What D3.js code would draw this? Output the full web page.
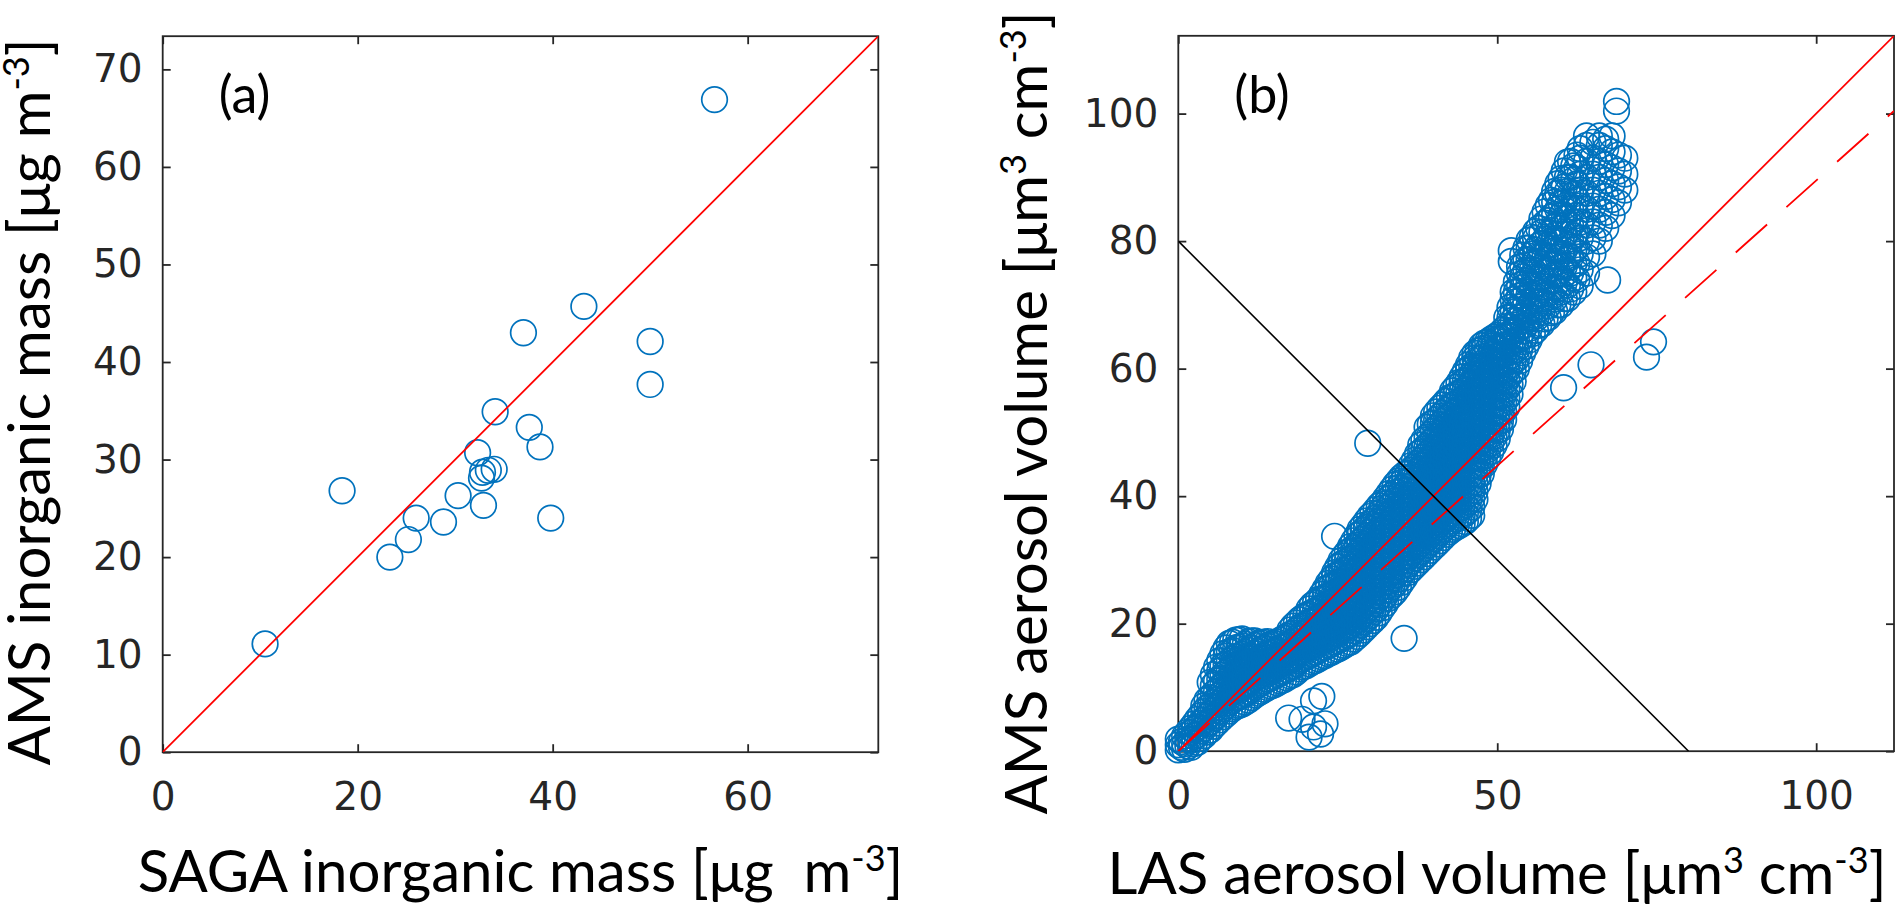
<!DOCTYPE html>
<html>
<head>
<meta charset="utf-8">
<script src="https://cdn.jsdelivr.net/npm/d3@7"></script>
<style>
  html, body { margin: 0; padding: 0; background: #fff; }
  svg { display: block; }
</style>
</head>
<body>
<div id="chart"></div>
<script>
// Panel (a): SAGA vs AMS inorganic mass
const sagaMass = [10.5, 18.4, 23.3, 25.2, 26.0, 28.8, 30.3, 32.3, 32.7, 32.8, 33.4, 34.0, 32.9, 34.1, 37.0, 37.6, 38.7, 39.8, 43.2, 50.0, 50.0, 56.6];
const amsMass  = [11.1, 26.8, 20.0, 21.8, 24.0, 23.6, 26.3, 30.7, 28.1, 28.7, 28.9, 29.0, 25.3, 34.9, 43.0, 33.3, 31.3, 24.0, 45.7, 42.1, 37.7, 66.9];

const massTicksX = [0, 20, 40, 60];
const massTicksY = [0, 10, 20, 30, 40, 50, 60, 70];
const massMax = 73.4;

// Panel (b): LAS vs AMS aerosol volume, rows of [LAS, [AMS values]]
const volumeRows = [
  [0, [0.2, 1.0, 1.9]],
  [0.5, [0.6, 1.5]],
  [1, [0.3, 1.2, 2.4]],
  [1.5, [0.8, 1.9, 3.0]],
  [2, [0.6, 1.7, 2.9, 3.6]],
  [2.5, [1.2, 2.3, 3.4, 4.3]],
  [3, [1.4, 2.6, 3.8, 5.0]],
  [3.5, [2.0, 3.2, 4.4, 5.6]],
  [4, [2.4, 3.6, 4.9, 6.2, 7.1]],
  [4.5, [3.0, 4.3, 5.5, 6.8, 8.0]],
  [5, [3.3, 4.6, 5.8, 7.0, 8.4, 10.8]],
  [5.5, [3.9, 5.2, 6.4, 7.7, 9.0, 10.3, 12.0]],
  [6, [4.4, 5.6, 6.9, 8.1, 9.4, 11.0, 13.2]],
  [6.5, [4.9, 6.2, 7.5, 8.8, 10.0, 11.3, 12.6, 14.2]],
  [7, [5.4, 6.7, 8.0, 9.2, 10.5, 11.9, 13.4, 15.3]],
  [7.5, [5.8, 7.1, 8.4, 9.7, 11.0, 12.3, 13.6, 14.9, 16.2]],
  [8, [6.3, 7.6, 8.9, 10.1, 11.4, 12.8, 14.1, 15.6, 16.9]],
  [8.5, [6.7, 8.0, 9.3, 10.6, 11.9, 13.2, 14.5, 15.8, 17.1]],
  [9, [7.0, 8.3, 9.6, 10.9, 12.2, 13.5, 14.8, 16.2, 17.4]],
  [9.5, [7.2, 8.5, 9.8, 11.1, 12.4, 13.7, 15.0, 16.3, 17.5]],
  [10, [7.4, 8.7, 10.0, 11.3, 12.6, 13.9, 15.2, 16.5, 17.6]],
  [10.5, [7.7, 9.0, 10.3, 11.6, 12.9, 14.2, 15.5, 16.8]],
  [11, [8.0, 9.3, 10.6, 11.9, 13.2, 14.5, 15.8, 17.2]],
  [11.5, [8.4, 9.7, 11.0, 12.3, 13.6, 14.9, 16.2, 17.3]],
  [12, [8.8, 10.1, 11.4, 12.7, 14.0, 15.3, 16.6, 17.3]],
  [12.5, [9.1, 10.4, 11.7, 13.0, 14.3, 15.6, 16.9]],
  [13, [9.4, 10.7, 12.0, 13.3, 14.6, 15.9, 17.0]],
  [13.5, [9.7, 11.0, 12.3, 13.6, 14.9, 16.2, 17.1]],
  [14, [10.0, 11.3, 12.6, 13.9, 15.2, 16.5, 17.2]],
  [14.5, [10.2, 11.5, 12.8, 14.1, 15.4, 16.7]],
  [15, [10.4, 11.7, 13.0, 14.3, 15.6, 16.9]],
  [15.5, [10.7, 12.0, 13.3, 14.6, 15.9, 17.1]],
  [16, [11.0, 12.3, 13.6, 14.9, 16.2, 17.4]],
  [16.5, [11.2, 12.5, 13.8, 15.1, 16.4, 17.7]],
  [17, [11.5, 12.8, 14.1, 15.4, 16.7, 18.0]],
  [17.5, [11.8, 13.1, 14.4, 15.7, 17.0, 18.3, 19.0]],
  [18, [12.0, 13.3, 14.6, 15.9, 17.2, 18.5, 19.6]],
  [18.5, [12.4, 13.7, 15.0, 16.3, 17.6, 18.9, 20.1]],
  [19, [12.9, 14.2, 15.5, 16.8, 18.1, 19.4, 20.6]],
  [19.5, [13.2, 14.5, 15.8, 17.1, 18.4, 19.7, 21.0]],
  [20, [13.4, 14.7, 16.0, 17.3, 18.6, 19.9, 21.3]],
  [20.5, [13.7, 15.0, 16.3, 17.6, 18.9, 20.2, 21.5, 22.3]],
  [21, [14.0, 15.3, 16.6, 17.9, 19.2, 20.5, 21.8, 22.9]],
  [21.5, [14.2, 15.5, 16.8, 18.1, 19.4, 20.7, 22.0, 23.3]],
  [22, [14.5, 15.8, 17.1, 18.4, 19.7, 21.0, 22.3, 23.8]],
  [22.5, [14.8, 16.1, 17.4, 18.7, 20.0, 21.3, 22.6, 23.9, 24.6]],
  [23, [15.0, 16.3, 17.6, 18.9, 20.2, 21.5, 22.8, 24.1, 25.4]],
  [23.5, [15.3, 16.6, 17.9, 19.2, 20.5, 21.8, 23.1, 24.4, 25.7, 26.3]],
  [24, [15.5, 16.8, 18.1, 19.4, 20.7, 22.0, 23.3, 24.6, 25.9, 27.0]],
  [24.5, [15.8, 17.1, 18.4, 19.7, 21.0, 22.3, 23.6, 24.9, 26.2, 27.5, 28.0]],
  [25, [16.0, 17.3, 18.6, 19.9, 21.2, 22.5, 23.8, 25.1, 26.4, 27.7, 28.9]],
  [25.5, [16.3, 17.6, 18.9, 20.2, 21.5, 22.8, 24.1, 25.4, 26.7, 28.0, 29.3, 29.9]],
  [26, [16.6, 17.9, 19.2, 20.5, 21.8, 23.1, 24.4, 25.7, 27.0, 28.3, 29.6, 30.6]],
  [26.5, [16.9, 18.2, 19.5, 20.8, 22.1, 23.4, 24.7, 26.0, 27.3, 28.6, 29.9, 31.2]],
  [27, [17.1, 18.4, 19.7, 21.0, 22.3, 23.6, 24.9, 26.2, 27.5, 28.8, 30.1, 31.4, 32.1]],
  [27.5, [17.6, 18.9, 20.2, 21.5, 22.8, 24.1, 25.4, 26.7, 28.0, 29.3, 30.6, 31.9, 33.0]],
  [28, [18.0, 19.3, 20.6, 21.9, 23.2, 24.5, 25.8, 27.1, 28.4, 29.7, 31.0, 32.3, 33.8]],
  [28.5, [18.5, 19.8, 21.1, 22.4, 23.7, 25.0, 26.3, 27.6, 28.9, 30.2, 31.5, 32.8, 34.1, 34.8]],
  [29, [19.0, 20.3, 21.6, 22.9, 24.2, 25.5, 26.8, 28.1, 29.4, 30.7, 32.0, 33.3, 34.6, 35.4]],
  [29.5, [19.5, 20.8, 22.1, 23.4, 24.7, 26.0, 27.3, 28.6, 29.9, 31.2, 32.5, 33.8, 35.1, 36.1]],
  [30, [20.0, 21.3, 22.6, 23.9, 25.2, 26.5, 27.8, 29.1, 30.4, 31.7, 33.0, 34.3, 35.6, 36.8]],
  [30.5, [20.5, 21.8, 23.1, 24.4, 25.7, 27.0, 28.3, 29.6, 30.9, 32.2, 33.5, 34.8, 36.1, 37.3]],
  [31, [21.0, 22.3, 23.6, 24.9, 26.2, 27.5, 28.8, 30.1, 31.4, 32.7, 34.0, 35.3, 36.6, 37.9]],
  [31.5, [21.7, 23.0, 24.3, 25.6, 26.9, 28.2, 29.5, 30.8, 32.1, 33.4, 34.7, 36.0, 37.3, 38.5]],
  [32, [22.5, 23.8, 25.1, 26.4, 27.7, 29.0, 30.3, 31.6, 32.9, 34.2, 35.5, 36.8, 38.1, 39.0]],
  [32.5, [23.2, 24.5, 25.8, 27.1, 28.4, 29.7, 31.0, 32.3, 33.6, 34.9, 36.2, 37.5, 38.8, 39.7]],
  [33, [24.0, 25.3, 26.6, 27.9, 29.2, 30.5, 31.8, 33.1, 34.4, 35.7, 37.0, 38.3, 39.6, 40.4]],
  [33.5, [24.5, 25.8, 27.1, 28.4, 29.7, 31.0, 32.3, 33.6, 34.9, 36.2, 37.5, 38.8, 40.1, 41.1]],
  [34, [25.0, 26.3, 27.6, 28.9, 30.2, 31.5, 32.8, 34.1, 35.4, 36.7, 38.0, 39.3, 40.6, 41.8]],
  [34.5, [25.7, 27.0, 28.3, 29.6, 30.9, 32.2, 33.5, 34.8, 36.1, 37.4, 38.7, 40.0, 41.3, 42.4]],
  [35, [26.5, 27.8, 29.1, 30.4, 31.7, 33.0, 34.3, 35.6, 36.9, 38.2, 39.5, 40.8, 42.1, 43.0]],
  [35.5, [27.2, 28.5, 29.8, 31.1, 32.4, 33.7, 35.0, 36.3, 37.6, 38.9, 40.2, 41.5, 42.8, 43.4]],
  [36, [28.0, 29.3, 30.6, 31.9, 33.2, 34.5, 35.8, 37.1, 38.4, 39.7, 41.0, 42.3, 43.6]],
  [36.5, [28.5, 29.8, 31.1, 32.4, 33.7, 35.0, 36.3, 37.6, 38.9, 40.2, 41.5, 42.8, 44.1, 44.8]],
  [37, [29.0, 30.3, 31.6, 32.9, 34.2, 35.5, 36.8, 38.1, 39.4, 40.7, 42.0, 43.3, 44.6, 45.6]],
  [37.5, [29.5, 30.8, 32.1, 33.4, 34.7, 36.0, 37.3, 38.6, 39.9, 41.2, 42.5, 43.8, 45.1, 46.6]],
  [38, [30.0, 31.3, 32.6, 33.9, 35.2, 36.5, 37.8, 39.1, 40.4, 41.7, 43.0, 44.3, 45.6, 46.9, 48.0]],
  [38.5, [30.5, 31.8, 33.1, 34.4, 35.7, 37.0, 38.3, 39.6, 40.9, 42.2, 43.5, 44.8, 46.1, 47.4, 48.8]],
  [39, [31.0, 32.3, 33.6, 34.9, 36.2, 37.5, 38.8, 40.1, 41.4, 42.7, 44.0, 45.3, 46.6, 47.9, 49.2, 50.8]],
  [39.5, [31.5, 32.8, 34.1, 35.4, 36.7, 38.0, 39.3, 40.6, 41.9, 43.2, 44.5, 45.8, 47.1, 48.4, 49.7, 51.3]],
  [40, [32.0, 33.3, 34.6, 35.9, 37.2, 38.5, 39.8, 41.1, 42.4, 43.7, 45.0, 46.3, 47.6, 48.9, 50.2, 51.5, 52.6]],
  [40.5, [32.5, 33.8, 35.1, 36.4, 37.7, 39.0, 40.3, 41.6, 42.9, 44.2, 45.5, 46.8, 48.1, 49.4, 50.7, 52.0, 53.2]],
  [41, [33.0, 34.3, 35.6, 36.9, 38.2, 39.5, 40.8, 42.1, 43.4, 44.7, 46.0, 47.3, 48.6, 49.9, 51.2, 52.5, 53.8]],
  [41.5, [33.5, 34.8, 36.1, 37.4, 38.7, 40.0, 41.3, 42.6, 43.9, 45.2, 46.5, 47.8, 49.1, 50.4, 51.7, 53.0, 54.3]],
  [42, [34.0, 35.3, 36.6, 37.9, 39.2, 40.5, 41.8, 43.1, 44.4, 45.7, 47.0, 48.3, 49.6, 50.9, 52.2, 53.5, 54.9]],
  [42.5, [34.4, 35.7, 37.0, 38.3, 39.6, 40.9, 42.2, 43.5, 44.8, 46.1, 47.4, 48.7, 50.0, 51.3, 52.6, 53.9, 55.4]],
  [43, [34.8, 36.1, 37.4, 38.7, 40.0, 41.3, 42.6, 43.9, 45.2, 46.5, 47.8, 49.1, 50.4, 51.7, 53.0, 54.3, 55.6, 56.5]],
  [43.5, [35.1, 36.4, 37.7, 39.0, 40.3, 41.6, 42.9, 44.2, 45.5, 46.8, 48.1, 49.4, 50.7, 52.0, 53.3, 54.6, 55.9, 57.1]],
  [44, [35.4, 36.7, 38.0, 39.3, 40.6, 41.9, 43.2, 44.5, 45.8, 47.1, 48.4, 49.7, 51.0, 52.3, 53.6, 54.9, 56.2, 57.8]],
  [44.5, [35.7, 37.0, 38.3, 39.6, 40.9, 42.2, 43.5, 44.8, 46.1, 47.4, 48.7, 50.0, 51.3, 52.6, 53.9, 55.2, 56.5, 57.8, 58.7]],
  [45, [36.0, 37.3, 38.6, 39.9, 41.2, 42.5, 43.8, 45.1, 46.4, 47.7, 49.0, 50.3, 51.6, 52.9, 54.2, 55.5, 56.8, 58.1, 59.6]],
  [45.5, [36.5, 37.8, 39.1, 40.4, 41.7, 43.0, 44.3, 45.6, 46.9, 48.2, 49.5, 50.8, 52.1, 53.4, 54.7, 56.0, 57.3, 58.6, 59.9, 60.6]],
  [46, [37.0, 38.3, 39.6, 40.9, 42.2, 43.5, 44.8, 46.1, 47.4, 48.7, 50.0, 51.3, 52.6, 53.9, 55.2, 56.5, 57.8, 59.1, 60.4, 61.7]],
  [46.5, [39.5, 40.8, 42.1, 43.4, 44.7, 46.0, 47.3, 48.6, 49.9, 51.2, 52.5, 53.8, 55.1, 56.4, 57.7, 59.0, 60.3, 61.6, 62.4]],
  [47, [42.0, 43.3, 44.6, 45.9, 47.2, 48.5, 49.8, 51.1, 52.4, 53.7, 55.0, 56.3, 57.6, 58.9, 60.2, 61.5, 62.8]],
  [47.5, [43.5, 44.8, 46.1, 47.4, 48.7, 50.0, 51.3, 52.6, 53.9, 55.2, 56.5, 57.8, 59.1, 60.4, 61.7, 63.0, 63.6]],
  [48, [45.0, 46.3, 47.6, 48.9, 50.2, 51.5, 52.8, 54.1, 55.4, 56.7, 58.0, 59.3, 60.6, 61.9, 63.2, 64.0]],
  [48.5, [46.0, 47.3, 48.6, 49.9, 51.2, 52.5, 53.8, 55.1, 56.4, 57.7, 59.0, 60.3, 61.6, 62.9, 64.2]],
  [49, [47.0, 48.3, 49.6, 50.9, 52.2, 53.5, 54.8, 56.1, 57.4, 58.7, 60.0, 61.3, 62.6, 63.9, 64.6]],
  [49.5, [48.0, 49.3, 50.6, 51.9, 53.2, 54.5, 55.8, 57.1, 58.4, 59.7, 61.0, 62.3, 63.6, 64.9]],
  [50, [49.0, 50.3, 51.6, 52.9, 54.2, 55.5, 56.8, 58.1, 59.4, 60.7, 62.0, 63.3, 64.6, 65.2]],
  [50.5, [50.5, 51.8, 53.1, 54.4, 55.7, 57.0, 58.3, 59.6, 60.9, 62.2, 63.5, 64.8, 65.6]],
  [51, [52.0, 53.3, 54.6, 55.9, 57.2, 58.5, 59.8, 61.1, 62.4, 63.7, 65.0, 66.1]],
  [51.5, [54.0, 55.4, 56.8, 58.2, 59.6, 61.0, 62.4, 63.8, 65.2, 66.6, 68.0]],
  [52, [56.0, 57.5, 59.0, 60.5, 62.0, 63.5, 65.0, 66.5, 68.0, 69.6]],
  [52.5, [58.0, 59.6, 61.2, 62.8, 64.4, 66.0, 67.6, 69.2, 70.8, 72.0]],
  [53, [60.0, 61.5, 63.0, 64.5, 66.0, 67.5, 69.0, 70.5, 72.0, 73.6]],
  [53.5, [61.2, 62.9, 64.6, 66.3, 68.0, 69.7, 71.4, 73.1, 74.8, 76.0]],
  [54, [62.5, 64.2, 65.9, 67.6, 69.3, 71.0, 72.7, 74.4, 76.1, 77.8]],
  [54.5, [63.5, 65.2, 66.9, 68.6, 70.3, 72.0, 73.7, 75.4, 77.1, 78.9]],
  [55, [64.5, 66.3, 68.1, 69.9, 71.7, 73.5, 75.3, 77.1, 78.9, 80.2]],
  [55.5, [65.5, 68.0, 70.5, 73.0, 75.5, 78.0, 80.6]],
  [56, [66.0, 67.8, 69.6, 71.4, 73.2, 75.0, 76.8, 78.6, 80.4, 81.5]],
  [56.5, [66.8, 69.3, 71.8, 74.3, 76.8, 79.3, 82.0]],
  [57, [67.0, 68.8, 70.6, 72.4, 74.2, 76.0, 77.8, 79.6, 81.4, 83.5]],
  [57.5, [67.8, 70.3, 72.8, 75.3, 77.8, 80.3, 82.8, 84.6]],
  [58, [68.0, 69.9, 71.8, 73.7, 75.6, 77.5, 79.4, 81.3, 83.2, 85.6]],
  [58.5, [68.8, 71.3, 73.8, 76.3, 78.8, 81.3, 83.8, 86.4]],
  [59, [69.0, 70.9, 72.8, 74.7, 76.6, 78.5, 80.4, 82.3, 84.2, 86.1, 87.8]],
  [59.5, [70.0, 72.5, 75.0, 77.5, 80.0, 82.5, 85.0, 87.5, 89.0]],
  [60, [70.0, 72.0, 74.0, 76.0, 78.0, 80.0, 82.0, 84.0, 86.0, 88.0, 89.8]],
  [60.5, [71.0, 73.5, 76.0, 78.5, 81.0, 83.5, 86.0, 88.5, 91.0]],
  [61, [71.0, 73.1, 75.2, 77.3, 79.4, 81.5, 83.6, 85.7, 87.8, 90.0, 92.4]],
  [61.5, [72.5, 75.0, 77.5, 80.0, 82.5, 85.0, 87.5, 90.0]],
  [62, [72.0, 74.2, 76.4, 78.6, 80.8, 83.0, 85.2, 87.4, 89.6, 91.8]],
  [62.5, [74.0, 76.5, 79.0, 81.5, 84.0, 86.5, 89.0, 91.5, 93.5]],
  [63, [73.0, 75.5, 78.0, 80.5, 83.0, 85.5, 88.0, 90.5, 93.0, 94.5]],
  [64, [75.0, 77.5, 80.0, 82.5, 85.0, 87.5, 90.0, 92.5, 95.0, 96.5]],
  [65, [78.0, 80.5, 83.0, 85.5, 88.0, 90.5, 93.0, 95.5]],
  [66, [80.0, 82.5, 85.0, 87.5, 90.0, 92.5, 95.0, 96.5]],
  [67, [82.0, 84.5, 87.0, 89.5, 92.0, 94.5, 96.0]],
  [68, [84.0, 86.5, 89.0, 91.5, 94.0, 96.5]],
  [69, [86.0, 88.5, 91.0, 93.5]],
  [70, [88.0, 90.5, 93.0]]
];

// isolated points away from the main cloud
const volumeOutliers = [
  [17.3, 5.2], [19.4, 5.0], [21.2, 3.8], [22.3, 2.7], [21.2, 7.9], [22.5, 8.6], [23.0, 4.3], [20.5, 2.2],
  [24.5, 33.7], [29.7, 48.3], [35.4, 17.7], [52.2, 76.8], [52.2, 78.5], [60.4, 57.0], [64.7, 60.6],
  [74.5, 64.2], [73.4, 61.8], [61.5, 92.5], [67.3, 73.9], [68.7, 101.9], [68.7, 100.4]
];

const volumeTicksX = [0, 50, 100];
const volumeTicksY = [0, 20, 40, 60, 80, 100];
const volumeMax = 112.2;
const fitSlope = 0.895;      // dashed regression line
const crossLine = [[0, 80], [80, 0]];

const volumePoints = volumeRows.flatMap(([x, ys]) => ys.map(y => [x, y])).concat(volumeOutliers);

// Layout
const W = 1898, H = 910;
const boxA = { left: 162.7, right: 878.3, top: 36.2, bottom: 752.2 };
const boxB = { left: 1178.3, right: 1894, top: 35.8, bottom: 751.2 };
const axisColor = "#262626";
const blue = "#0072BD";
const tickFont = "'DejaVu Sans', sans-serif";
const labelFont = "Lato, 'Open Sans', sans-serif";

const svg = d3.select("#chart").append("svg")
    .attr("width", W)
    .attr("height", H);

const defs = svg.append("defs");

function drawPanel(box, max, ticksX, ticksY, id) {
    const x = d3.scaleLinear().domain([0, max]).range([box.left, box.right]);
    const y = d3.scaleLinear().domain([0, max]).range([box.bottom, box.top]);

    defs.append("clipPath").attr("id", id)
        .append("rect")
        .attr("x", box.left).attr("y", box.top)
        .attr("width", box.right - box.left).attr("height", box.bottom - box.top);

    const g = svg.append("g");

    // axes with inward ticks on all four sides
    g.append("g").attr("transform", `translate(0,${box.bottom})`)
        .call(d3.axisBottom(x).tickValues(ticksX).tickSizeInner(-8).tickSizeOuter(0).tickPadding(30));
    g.append("g").attr("transform", `translate(${box.left},0)`)
        .call(d3.axisLeft(y).tickValues(ticksY).tickSizeInner(-8).tickSizeOuter(0).tickPadding(20));
    g.append("g").attr("transform", `translate(0,${box.top})`)
        .call(d3.axisTop(x).tickValues(ticksX).tickSizeInner(-8).tickSizeOuter(0).tickFormat(""));
    g.append("g").attr("transform", `translate(${box.right},0)`)
        .call(d3.axisRight(y).tickValues(ticksY).tickSizeInner(-8).tickSizeOuter(0).tickFormat(""));

    g.selectAll(".domain").remove();
    g.selectAll(".tick line").attr("stroke", axisColor).attr("stroke-width", 1.8);
    g.selectAll(".tick text")
        .attr("fill", axisColor)
        .style("font-family", tickFont)
        .style("font-size", "39px");

    g.append("rect")
        .attr("x", box.left).attr("y", box.top)
        .attr("width", box.right - box.left).attr("height", box.bottom - box.top)
        .attr("fill", "none")
        .attr("stroke", axisColor)
        .attr("stroke-width", 1.8);

    return { x, y, g };
}

// ---- panel (a)
const pa = drawPanel(boxA, massMax, massTicksX, massTicksY, "clipA");

pa.g.append("g").selectAll("circle")
    .data(sagaMass.map((d, i) => [d, amsMass[i]]))
    .enter()
    .append("circle")
    .attr("cx", d => pa.x(d[0]))
    .attr("cy", d => pa.y(d[1]))
    .attr("r", 12.8)
    .attr("fill", "none")
    .attr("stroke", blue)
    .attr("stroke-width", 1.7);

pa.g.append("line")
    .attr("clip-path", "url(#clipA)")
    .attr("x1", pa.x(0)).attr("y1", pa.y(0))
    .attr("x2", pa.x(massMax)).attr("y2", pa.y(massMax))
    .attr("stroke", "#ff0000")
    .attr("stroke-width", 1.8);

// ---- panel (b)
const pb = drawPanel(boxB, volumeMax, volumeTicksX, volumeTicksY, "clipB");

pb.g.append("g").selectAll("circle")
    .data(volumePoints)
    .enter()
    .append("circle")
    .attr("cx", d => pb.x(d[0]))
    .attr("cy", d => pb.y(d[1]))
    .attr("r", 12.8)
    .attr("fill", "none")
    .attr("stroke", blue)
    .attr("stroke-width", 1.7);

const lines = pb.g.append("g").attr("clip-path", "url(#clipB)");

lines.append("line")
    .attr("x1", pb.x(0)).attr("y1", pb.y(0))
    .attr("x2", pb.x(volumeMax)).attr("y2", pb.y(volumeMax))
    .attr("stroke", "#ff0000")
    .attr("stroke-width", 1.8);

lines.append("line")
    .attr("x1", pb.x(0)).attr("y1", pb.y(0))
    .attr("x2", pb.x(volumeMax)).attr("y2", pb.y(volumeMax * fitSlope))
    .attr("stroke", "#ff0000")
    .attr("stroke-width", 1.8)
    .attr("stroke-dasharray", "42,26");

lines.append("line")
    .attr("x1", pb.x(crossLine[0][0])).attr("y1", pb.y(crossLine[0][1]))
    .attr("x2", pb.x(crossLine[1][0])).attr("y2", pb.y(crossLine[1][1]))
    .attr("stroke", "#000")
    .attr("stroke-width", 1.6);

// ---- labels
function addLabel(transform, parts, fs) {
    const t = svg.append("text")
        .attr("transform", transform)
        .attr("text-anchor", "middle")
        .attr("fill", "#000")
        .style("font-family", labelFont)
        .style("font-size", fs + "px")
        .style("white-space", "pre");
    let raised = false;
    parts.forEach(p => {
        const ts = t.append("tspan").text(p[0]);
        if (p[1]) {
            ts.style("font-size", (fs * 0.62) + "px").attr("dy", -0.36 * fs);
        } else if (raised) {
            ts.attr("dy", 0.36 * fs);
        }
        raised = p[1];
    });
    return t;
}

const xLabelA = [["SAGA inorganic mass [\u03bcg  m", false], ["-3", true], ["]", false]];
const yLabelA = [["AMS inorganic mass [\u03bcg m", false], ["-3", true], ["]", false]];
const xLabelB = [["LAS aerosol volume [\u03bcm", false], ["3", true], [" cm", false], ["-3", true], ["]", false]];
const yLabelB = [["AMS aerosol volume [\u03bcm", false], ["3", true], [" cm", false], ["-3", true], ["]", false]];

// size the label font so the (a) x label spans the same width as in the original
const probe = addLabel("translate(-2000,-2000)", xLabelA, 60);
const fsLabel = 60 * 766 / probe.node().getComputedTextLength();
probe.remove();

addLabel(`translate(520.5,892)`, xLabelA, fsLabel);
addLabel(`translate(50,402) rotate(-90)`, yLabelA, fsLabel);
addLabel(`translate(1497,894)`, xLabelB, fsLabel);
addLabel(`translate(1047,413) rotate(-90)`, yLabelB, fsLabel);

svg.append("text")
    .attr("x", boxA.left + 56).attr("y", 113)
    .style("font-family", labelFont).style("font-size", "52px")
    .text("(a)");
svg.append("text")
    .attr("x", boxB.left + 56).attr("y", 113)
    .style("font-family", labelFont).style("font-size", "52px")
    .text("(b)");
</script>
</body>
</html>
